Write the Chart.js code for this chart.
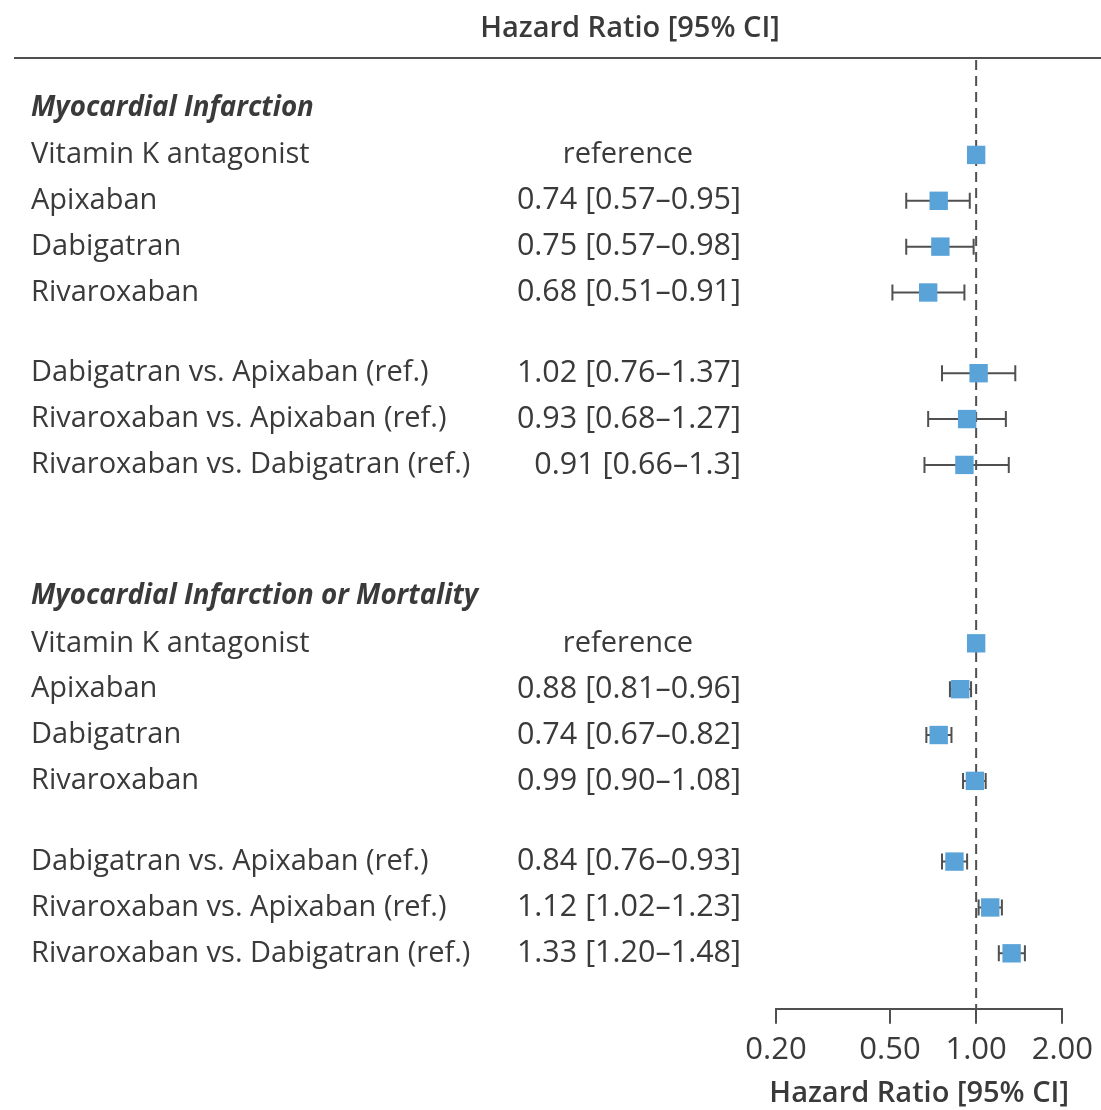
<!DOCTYPE html>
<html>
<head>
<meta charset="utf-8">
<script src="https://cdn.jsdelivr.net/npm/chart.js@4.4.1/dist/chart.umd.min.js"></script>
<style>
  html, body { margin: 0; padding: 0; background: #fff; }
  #wrap { width: 1101px; height: 1110px; position: relative; }
</style>
</head>
<body>
<div id="wrap"><canvas id="forest"></canvas></div>
<script>
// row labels (same for both outcomes)
const rowLabels = [
    'Vitamin K antagonist',
    'Apixaban',
    'Dabigatran',
    'Rivaroxaban',
    'Dabigatran vs. Apixaban (ref.)',
    'Rivaroxaban vs. Apixaban (ref.)',
    'Rivaroxaban vs. Dabigatran (ref.)'
];

const groupTitles = ['Myocardial Infarction', 'Myocardial Infarction or Mortality'];
const axisTitle = 'Hazard Ratio [95% CI]';

// Myocardial infarction
const miHR   = [1.00, 0.74, 0.75, 0.68, 1.02, 0.93, 0.91];
const miLow  = [null, 0.57, 0.57, 0.51, 0.76, 0.68, 0.66];
const miHigh = [null, 0.95, 0.98, 0.91, 1.37, 1.27, 1.30];
const miText = ['reference', '0.74 [0.57\u20130.95]', '0.75 [0.57\u20130.98]', '0.68 [0.51\u20130.91]',
                '1.02 [0.76\u20131.37]', '0.93 [0.68\u20131.27]', '0.91 [0.66\u20131.3]'];

// Myocardial infarction or mortality
const mortHR   = [1.00, 0.88, 0.74, 0.99, 0.84, 1.12, 1.33];
const mortLow  = [null, 0.81, 0.67, 0.90, 0.76, 1.02, 1.20];
const mortHigh = [null, 0.96, 0.82, 1.08, 0.93, 1.23, 1.48];
const mortText = ['reference', '0.88 [0.81\u20130.96]', '0.74 [0.67\u20130.82]', '0.99 [0.90\u20131.08]',
                  '0.84 [0.76\u20130.93]', '1.12 [1.02\u20131.23]', '1.33 [1.20\u20131.48]'];

const xTicks = [0.2, 0.5, 1, 2];

const FONT = '"Open Sans", "Noto Sans", sans-serif';
const TEXT_COLOR = '#3a3a3a';
const LINE_COLOR = '#505050';
const BOX_COLOR = '#5aa3d9';

// row positions: header, 4 rows, gap, 3 rows
function rowPositions(start) {
    const pos = [];
    let p = start + 1.02;
    for (let i = 0; i < 7; i++) {
        if (i === 4) p += 0.76;
        pos.push(p);
        p += 1;
    }
    return pos;
}
const headerPos = [0, 10.65];
const miPos = rowPositions(headerPos[0]);
const mortPos = rowPositions(headerPos[1]);

const groups = [
    { title: groupTitles[0], header: headerPos[0], pos: miPos, hr: miHR, low: miLow, high: miHigh, text: miText },
    { title: groupTitles[1], header: headerPos[1], pos: mortPos, hr: mortHR, low: mortLow, high: mortHigh, text: mortText }
];

const forestPlugin = {
    id: 'forest',
    beforeDatasetsDraw(chart) {
        const { ctx, chartArea } = chart;
        const xs = chart.scales.x, ys = chart.scales.y;
        ctx.save();

        // top title + rule
        ctx.fillStyle = TEXT_COLOR;
        ctx.font = `600 29px ${FONT}`;
        ctx.textAlign = 'center';
        ctx.textBaseline = 'middle';
        ctx.fillText(axisTitle, 630, 29);
        ctx.strokeStyle = LINE_COLOR;
        ctx.lineWidth = 2;
        ctx.beginPath();
        ctx.moveTo(14, 58);
        ctx.lineTo(1101, 58);
        ctx.stroke();

        // bottom axis title (drawn here so it is not squeezed to the axis width)
        ctx.fillText(axisTitle, (xs.left + xs.right) / 2, xs.bottom - 16);

        // line of no effect
        const x1 = xs.getPixelForValue(1);
        ctx.setLineDash([10, 6]);
        ctx.beginPath();
        ctx.moveTo(x1, chartArea.top);
        ctx.lineTo(x1, chartArea.bottom);
        ctx.stroke();
        ctx.setLineDash([]);

        groups.forEach(g => {
            ctx.textBaseline = 'middle';
            ctx.textAlign = 'left';
            ctx.fillStyle = TEXT_COLOR;
            ctx.font = `italic 700 27.7px ${FONT}`;
            ctx.fillText(g.title, 31, ys.getPixelForValue(g.header));

            g.pos.forEach((p, i) => {
                const y = ys.getPixelForValue(p);
                ctx.font = `500 29px ${FONT}`;
                ctx.textAlign = 'left';
                ctx.fillText(rowLabels[i], 31, y);
                if (g.low[i] == null) {
                    ctx.textAlign = 'center';
                    ctx.fillText(g.text[i], 628, y);
                } else {
                    ctx.font = `500 30.5px ${FONT}`;
                    ctx.textAlign = 'right';
                    ctx.fillText(g.text[i], 741, y);

                    // confidence interval
                    const xl = xs.getPixelForValue(g.low[i]);
                    const xh = xs.getPixelForValue(g.high[i]);
                    ctx.strokeStyle = LINE_COLOR;
                    ctx.lineWidth = 2;
                    ctx.beginPath();
                    ctx.moveTo(xl, y);
                    ctx.lineTo(xh, y);
                    ctx.moveTo(xl, y - 8);
                    ctx.lineTo(xl, y + 8);
                    ctx.moveTo(xh, y - 8);
                    ctx.lineTo(xh, y + 8);
                    ctx.stroke();
                }
            });
        });
        ctx.restore();
    }
};

const datasets = groups.map(g => ({
    data: g.hr.map((v, i) => ({ x: v, y: g.pos[i] })),
    pointStyle: 'rect',
    pointRadius: 13,
    pointHoverRadius: 13,
    backgroundColor: BOX_COLOR,
    borderColor: BOX_COLOR,
    borderWidth: 0,
    clip: false
}));

new Chart(document.getElementById('forest'), {
    type: 'scatter',
    data: { datasets },
    options: {
        responsive: true,
        maintainAspectRatio: false,
        animation: false,
        layout: { padding: { left: 776, right: 38, top: 60, bottom: 0 } },
        plugins: { legend: { display: false }, tooltip: { enabled: false } },
        scales: {
            x: {
                type: 'logarithmic',
                min: 0.2,
                max: 2,
                afterBuildTicks: scale => { scale.ticks = xTicks.map(v => ({ value: v })); },
                ticks: {
                    callback: v => Number(v).toFixed(2),
                    color: TEXT_COLOR,
                    font: { family: FONT, size: 31 },
                    padding: 8,
                    maxRotation: 0,
                    autoSkip: false
                },
                grid: { drawOnChartArea: false, drawTicks: true, tickLength: 15, color: LINE_COLOR, lineWidth: 2 },
                border: { color: LINE_COLOR, width: 2 },
                // keeps the room for the title; the text itself is drawn by the plugin
                title: {
                    display: true,
                    text: axisTitle,
                    color: 'rgba(0,0,0,0)',
                    font: { family: FONT, size: 31, weight: 600, lineHeight: 1 },
                    padding: { top: 2, bottom: 0 }
                }
            },
            y: {
                type: 'linear',
                display: false,
                reverse: true,
                min: -1.05,
                max: 19.64
            }
        }
    },
    plugins: [forestPlugin]
});
</script>
</body>
</html>
